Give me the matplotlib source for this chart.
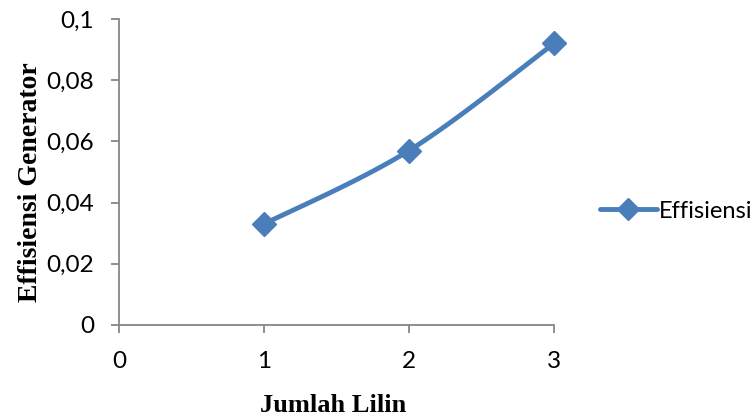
import matplotlib
matplotlib.use("Agg")
import matplotlib.pyplot as plt
import numpy as np

# data
jumlah_lilin = [1, 2, 3]
effisiensi = [0.033, 0.057, 0.092]
x_ticks = [0, 1, 2, 3]
y_ticks = [0, 0.02, 0.04, 0.06, 0.08, 0.1]
y_tick_labels = ["0", "0,02", "0,04", "0,06", "0,08", "0,1"]

LINE_COLOR = "#4A7EBB"
AXIS_COLOR = "#868686"


def excel_smooth(xs, ys, steps=40):
    """Bezier smoothing similar to the one Excel uses for smoothed lines."""
    xs = np.asarray(xs, dtype=float)
    ys = np.asarray(ys, dtype=float)
    px = np.concatenate([[xs[0]], xs, [xs[-1]]])
    py = np.concatenate([[ys[0]], ys, [ys[-1]]])
    out_x, out_y = [], []
    t = np.linspace(0, 1, steps)
    for i in range(1, len(px) - 2):
        p0 = np.array([px[i], py[i]])
        p3 = np.array([px[i + 1], py[i + 1]])
        p1 = p0 + (np.array([px[i + 1], py[i + 1]]) - np.array([px[i - 1], py[i - 1]])) / 6
        p2 = p3 - (np.array([px[i + 2], py[i + 2]]) - np.array([px[i], py[i]])) / 6
        b = (((1 - t) ** 3)[:, None] * p0 + (3 * (1 - t) ** 2 * t)[:, None] * p1
             + (3 * (1 - t) * t ** 2)[:, None] * p2 + (t ** 3)[:, None] * p3)
        out_x.extend(b[:, 0])
        out_y.extend(b[:, 1])
    return out_x, out_y


fig = plt.figure(figsize=(7.55, 4.16), dpi=100)
ax = fig.add_axes([0.1576, 0.2188, 0.5762, 0.7355])

sx, sy = excel_smooth(jumlah_lilin, effisiensi)
ax.plot(sx, sy, color=LINE_COLOR, linewidth=3.5, solid_capstyle="round",
        zorder=2, clip_on=False)
ax.plot(jumlah_lilin, effisiensi, linestyle="none", marker="D", markersize=12,
        color=LINE_COLOR, zorder=3, clip_on=False)

ax.set_xlim(0, 3)
ax.set_ylim(0, 0.1)
ax.set_xticks(x_ticks)
ax.set_yticks(y_ticks)
ax.set_yticklabels(y_tick_labels)

for side in ["top", "right"]:
    ax.spines[side].set_visible(False)
for side in ["left", "bottom"]:
    ax.spines[side].set_color(AXIS_COLOR)
    ax.spines[side].set_linewidth(1.3)

ax.tick_params(direction="out", length=6, width=1.3, color=AXIS_COLOR,
               labelsize=17.5, labelcolor="black")
ax.tick_params(axis="x", pad=13)
ax.tick_params(axis="y", pad=12)
for lbl in ax.get_xticklabels() + ax.get_yticklabels():
    lbl.set_fontfamily("Lato")

fig.text(0.441, 0.026, "Jumlah Lilin", ha="center", va="center",
         family="Liberation Serif", fontweight="bold", fontsize=19)
fig.text(0.040, 0.5625, "Effisiensi Generator", ha="center", va="center",
         rotation=90, family="Liberation Serif", fontweight="bold", fontsize=20)

leg = ax.legend(
    [plt.Line2D([], [], color=LINE_COLOR, linewidth=3.5, marker="D",
                markersize=11, solid_capstyle="round")],
    ["Effisiensi"], loc="center left", bbox_to_anchor=(1.106, 0.3725),
    frameon=False, handlelength=2.4, handletextpad=0.1,
    borderpad=0, borderaxespad=0,
    prop={"family": "Lato", "size": 17})

fig.savefig("out.png", dpi=100)
